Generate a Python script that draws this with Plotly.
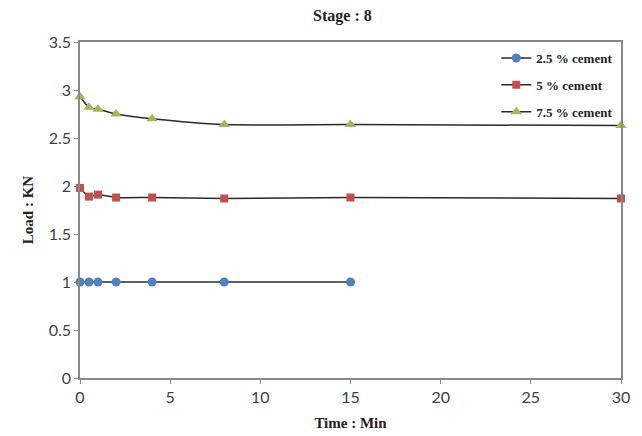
import plotly.graph_objects as go

time_25 = [0, 0.5, 1, 2, 4, 8, 15]
load_25 = [1.0, 1.0, 1.0, 1.0, 1.0, 1.0, 1.0]
time_5 = [0, 0.5, 1, 2, 4, 8, 15, 30]
load_5 = [1.98, 1.89, 1.91, 1.88, 1.88, 1.87, 1.88, 1.87]
time_75 = [0, 0.5, 1, 2, 4, 8, 15, 30]
load_75 = [2.93, 2.82, 2.80, 2.75, 2.70, 2.64, 2.64, 2.63]

series = [
    ("2.5 % cement", time_25, load_25, "#4F81BD", "circle", 9),
    ("5 % cement", time_5, load_5, "#C0504D", "square", 8),
    ("7.5 % cement", time_75, load_75, "#9BBB59", "triangle-up", 10),
]

fig = go.Figure()
for i, (name, xs, ys, col, sym, sz) in enumerate(series):
    fig.add_trace(go.Scatter(
        x=xs, y=ys, name="<b>" + name + "</b>", mode="lines+markers",
        line=dict(color="#2b2b2b", width=1.5, shape="spline", smoothing=0.6),
        marker=dict(color=col, symbol=sym, size=sz),
        legendgroup=str(i), cliponaxis=False,
    ))

serif = "Liberation Serif"
tickfont = dict(family="Lato", size=16, color="#404040")
fig.update_layout(
    width=642, height=436,
    margin=dict(l=80, r=21, t=42, b=58, autoexpand=False),
    paper_bgcolor="white", plot_bgcolor="white",
    title=dict(text="<b>Stage : 8</b>", xref="paper", x=0.485, xanchor="center", y=0.964, yanchor="middle",
               font=dict(family=serif, size=16, color="#222")),
    legend=dict(x=0.995, xanchor="right", y=0.997, yanchor="top",
                font=dict(family=serif, size=13, color="#222"),
                bgcolor="rgba(0,0,0,0)", tracegroupgap=7, itemwidth=30),
    showlegend=True,
)
fig.update_xaxes(range=[0, 30], tickvals=[0, 5, 10, 15, 20, 25, 30],
                 showgrid=False, zeroline=False, showline=True, linecolor="#888", linewidth=1.5,
                 mirror=True, ticks="outside", ticklen=4, tickcolor="#888",
                 tickfont=tickfont, automargin=False,
                 title=dict(text="<b>Time : Min</b>", font=dict(family=serif, size=15, color="#222"), standoff=13))
fig.update_yaxes(range=[0, 3.5], tickvals=[0, 0.5, 1, 1.5, 2, 2.5, 3, 3.5],
                 ticktext=["0", "0.5", "1", "1.5", "2", "2.5", "3", "3.5"],
                 showgrid=False, zeroline=False, showline=True, linecolor="#888", linewidth=1.5,
                 mirror=True, ticks="outside", ticklen=4, tickcolor="#888",
                 tickfont=tickfont, automargin=False,
                 title=dict(text="<b>Load : KN</b>", font=dict(family=serif, size=15, color="#222"), standoff=11))

fig.write_html("out.html", config={"displayModeBar": False},
               post_script="document.body.style.margin='0';")
